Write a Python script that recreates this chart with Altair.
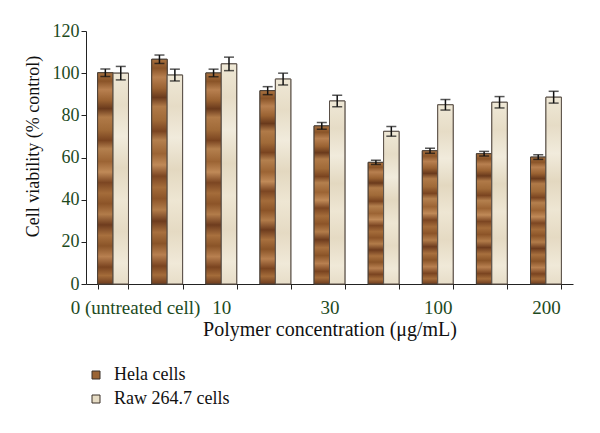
import altair as alt
import pandas as pd

# ---- data ----
groups = [0, 1, 2, 3, 4, 5, 6, 7, 8]
tick_labels = ["0 (untreated cell)", "", "10", "", "30", "", "100", "", "200"]
series_names = ["Hela cells", "Raw 264.7 cells"]
hela = [100.2, 106.6, 100.1, 91.7, 75.0, 57.7, 63.2, 61.8, 60.2]
raw = [100.0, 99.1, 104.4, 97.2, 86.8, 72.4, 85.0, 86.2, 88.6]
hela_err = [1.8, 2.0, 1.8, 1.9, 1.6, 1.0, 1.2, 1.1, 1.1]
raw_err = [3.2, 2.8, 3.2, 2.8, 2.7, 2.3, 2.5, 2.7, 2.8]

rows = []
for g, v, e in zip(groups, hela, hela_err):
    rows.append({"g": g, "series": series_names[0], "v": v, "lo": v - e, "hi": v + e})
for g, v, e in zip(groups, raw, raw_err):
    rows.append({"g": g, "series": series_names[1], "v": v, "lo": v - e, "hi": v + e})
df = pd.DataFrame(rows)

FONT = "Liberation Serif"
LABEL_COLOR = "#1d4a1d"
label_js = "[" + ",".join("'" + s + "'" for s in tick_labels) + "][datum.value]"

# textures as vertical gradients (horizontal streaks)
hela_grad = {
    "gradient": "linear", "x1": 0.5, "y1": 0, "x2": 0.5, "y2": 1,
    "stops": [
        {"offset": 0.00, "color": "#a8703e"},
        {"offset": 0.04, "color": "#8a5428"},
        {"offset": 0.08, "color": "#b88050"},
        {"offset": 0.13, "color": "#9a6232"},
        {"offset": 0.17, "color": "#6a3a1c"},
        {"offset": 0.21, "color": "#b07a48"},
        {"offset": 0.27, "color": "#a06a38"},
        {"offset": 0.32, "color": "#7a4420"},
        {"offset": 0.36, "color": "#b4804e"},
        {"offset": 0.42, "color": "#9c6434"},
        {"offset": 0.47, "color": "#c08a58"},
        {"offset": 0.52, "color": "#7c4622"},
        {"offset": 0.57, "color": "#a46c3a"},
        {"offset": 0.62, "color": "#8c5428"},
        {"offset": 0.67, "color": "#b27c4a"},
        {"offset": 0.72, "color": "#6e3c1e"},
        {"offset": 0.77, "color": "#a8703e"},
        {"offset": 0.82, "color": "#8a5428"},
        {"offset": 0.87, "color": "#b88050"},
        {"offset": 0.92, "color": "#7a4420"},
        {"offset": 0.96, "color": "#a46c3a"},
        {"offset": 1.00, "color": "#6e3c1e"},
    ],
}
raw_grad = {
    "gradient": "linear", "x1": 0.5, "y1": 0, "x2": 0.5, "y2": 1,
    "stops": [
        {"offset": 0.00, "color": "#efe8d6"},
        {"offset": 0.15, "color": "#e6dcc6"},
        {"offset": 0.30, "color": "#f1ebdc"},
        {"offset": 0.45, "color": "#e3d8c0"},
        {"offset": 0.60, "color": "#eee6d3"},
        {"offset": 0.75, "color": "#e5dac3"},
        {"offset": 0.90, "color": "#f0e9d8"},
        {"offset": 1.00, "color": "#e7ddc8"},
    ],
}

x_enc = alt.X(
    "g:O",
    scale=alt.Scale(paddingInner=0.43, paddingOuter=0.215),
    axis=alt.Axis(
        title="Polymer concentration (\u03bcg/mL)",
        titleFontSize=20,
        labelExpr=label_js,
        labelAngle=0,
        tickBand="extent",
        labelOffset=alt.condition("datum.value == 0", alt.value(22), alt.value(0)),
        labelFontSize=19,
        labelPadding=9,
        titlePadding=2,
    ),
)
xoff = alt.XOffset("series:N", scale=alt.Scale(domain=series_names, paddingInner=0, paddingOuter=0))
y_enc = alt.Y(
    "v:Q",
    scale=alt.Scale(domain=[0, 120], nice=False),
    axis=alt.Axis(
        title="Cell viability (% control)",
        values=[0, 20, 40, 60, 80, 100, 120],
        titlePadding=10,
        titleY=115,
    ),
)

base = alt.Chart(df)

bars = base.mark_bar(stroke="#4a4038", strokeWidth=1).encode(
    x=x_enc,
    xOffset=xoff,
    y=y_enc,
    color=alt.Color(
        "series:N",
        scale=alt.Scale(domain=series_names, range=["#9a6434", "#e6dcc4"]),
        legend=alt.Legend(
            title=None,
            orient="none",
            legendX=1,
            legendY=335,
            direction="vertical",
            symbolType="square",
            symbolSize=64,
            symbolStrokeColor="#3a3028",
            symbolStrokeWidth=1,
            labelFont=FONT,
            labelFontSize=18,
            labelColor="#111111",
            labelOffset=9,
            rowPadding=6,
            padding=0,
        ),
    ),
)

tex_h = base.transform_filter(alt.datum.series == series_names[0]).mark_bar(
    fill=hela_grad, stroke="#4a4038", strokeWidth=1
).encode(x=x_enc, xOffset=xoff, y=y_enc)
tex_r = base.transform_filter(alt.datum.series == series_names[1]).mark_bar(
    fill=raw_grad, stroke="#5a5048", strokeWidth=1
).encode(x=x_enc, xOffset=xoff, y=y_enc)

err = base.mark_rule(color="#111111", strokeWidth=1.5).encode(
    x=x_enc, xOffset=xoff, y="lo:Q", y2="hi:Q"
)
cap_hi = base.mark_tick(color="#111111", size=10, thickness=1.5, orient="horizontal").encode(
    x=x_enc, xOffset=xoff, y="hi:Q"
)
cap_lo = base.mark_tick(color="#111111", size=10, thickness=1.5, orient="horizontal").encode(
    x=x_enc, xOffset=xoff, y="lo:Q"
)

chart = (
    alt.layer(bars, tex_h, tex_r, err, cap_hi, cap_lo)
    .properties(
        width=487,
        height=253,
        background="white",
        padding={"top": 14, "left": 16, "right": 5, "bottom": 5},
    )
    .configure_view(stroke=None)
    .configure_axis(
        labelFont=FONT,
        labelFontSize=18,
        labelColor=LABEL_COLOR,
        titleFont=FONT,
        titleFontSize=18,
        titleFontWeight="normal",
        titleColor="#111111",
        domainColor="#222222",
        tickColor="#222222",
        tickSize=5,
        grid=False,
    )
)

chart.save("out.html", embed_options={"renderer": "svg", "actions": False})
